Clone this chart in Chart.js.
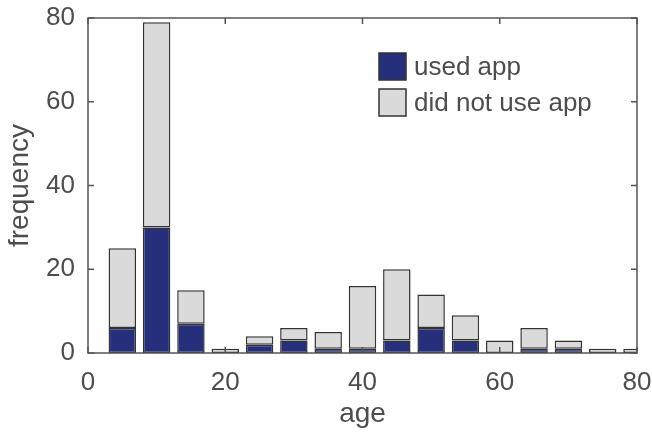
<!DOCTYPE html>
<html>
<head>
<meta charset="utf-8">
<script src="https://cdn.jsdelivr.net/npm/chart.js@4/dist/chart.umd.min.js"></script>
<style>
  html, body { margin: 0; padding: 0; background: #fff; }
  #wrap { width: 652px; height: 435px; }
</style>
</head>
<body>
<div id="wrap"><canvas id="c" width="652" height="435"></canvas></div>
<script>
// Age bins (bin centres, years)
const ageBins = [5, 10, 15, 20, 25, 30, 35, 40, 45, 50, 55, 60, 65, 70, 75, 80];
// Respondents per bin who used the app
const usedApp = [6, 30, 7, 0, 2, 3, 1, 1, 3, 6, 3, 0, 1, 1, 0, 0];
// Respondents per bin who did not use the app
const didNotUseApp = [19, 49, 8, 1, 2, 3, 4, 15, 17, 8, 6, 3, 5, 2, 1, 1];
// Axis ticks
const xTicks = [0, 20, 40, 60, 80];
const yTicks = [0, 20, 40, 60, 80];

const textColor = '#4d4d4d';
const frameColor = '#555555';
const edgeColor = '#333333';
const fontFamily = '"Liberation Sans", Arial, Helvetica, sans-serif';

const toPoints = vals => vals.map((v, i) => ({ x: ageBins[i], y: v }));

// Box around the plot area with inward tick marks on all four sides
const framePlugin = {
  id: 'frame',
  afterDatasetsDraw(chart) {
    const { ctx, chartArea: a, scales } = chart;
    const len = 6;
    ctx.save();
    ctx.strokeStyle = frameColor;
    ctx.lineWidth = 1.5;
    ctx.strokeRect(a.left, a.top, a.right - a.left, a.bottom - a.top);
    ctx.beginPath();
    xTicks.forEach(v => {
      const px = scales.x.getPixelForValue(v);
      ctx.moveTo(px, a.bottom); ctx.lineTo(px, a.bottom - len);
      ctx.moveTo(px, a.top); ctx.lineTo(px, a.top + len);
    });
    yTicks.forEach(v => {
      const py = scales.y.getPixelForValue(v);
      ctx.moveTo(a.left, py); ctx.lineTo(a.left + len, py);
      ctx.moveTo(a.right, py); ctx.lineTo(a.right - len, py);
    });
    ctx.stroke();
    ctx.restore();
  }
};

// Legend inside the plot, no surrounding box
const legendPlugin = {
  id: 'insideLegend',
  afterDraw(chart) {
    const { ctx } = chart;
    const box = 27, x0 = 379, y0 = 53, step = 36;
    ctx.save();
    ctx.font = '26px ' + fontFamily;
    ctx.textBaseline = 'middle';
    ctx.textAlign = 'left';
    chart.data.datasets.forEach((ds, i) => {
      const y = y0 + i * step;
      ctx.fillStyle = ds.backgroundColor;
      ctx.fillRect(x0, y, box, box);
      ctx.strokeStyle = edgeColor;
      ctx.lineWidth = 1.5;
      ctx.strokeRect(x0, y, box, box);
      ctx.fillStyle = textColor;
      ctx.fillText(ds.label, x0 + box + 8, y + box / 2 + 1);
    });
    ctx.restore();
  }
};

new Chart(document.getElementById('c'), {
  type: 'bar',
  data: {
    datasets: [
      {
        label: 'used app',
        data: toPoints(usedApp),
        backgroundColor: '#262f7b',
        borderColor: edgeColor,
        borderWidth: 1.5,
        borderSkipped: false,
        barPercentage: 0.8,
        categoryPercentage: 1.0,
        clip: 0
      },
      {
        label: 'did not use app',
        data: toPoints(didNotUseApp),
        backgroundColor: '#dadada',
        borderColor: edgeColor,
        borderWidth: 1.5,
        borderSkipped: false,
        barPercentage: 0.8,
        categoryPercentage: 1.0,
        clip: 0
      }
    ]
  },
  options: {
    responsive: false,
    animation: false,
    devicePixelRatio: 1,
    layout: { padding: { top: 18, right: 15, left: 0, bottom: 0 } },
    plugins: {
      legend: { display: false },
      tooltip: { enabled: false }
    },
    scales: {
      x: {
        type: 'linear',
        stacked: true,
        min: 0,
        max: 80,
        offset: false,
        grid: { display: false, drawTicks: false },
        border: { display: false },
        afterBuildTicks: s => { s.ticks = xTicks.map(v => ({ value: v })); },
        afterFit: s => { s.height = 82; s.paddingLeft = 0; s.paddingRight = 0; },
        ticks: {
          color: textColor,
          font: { family: fontFamily, size: 26 },
          padding: 14,
          maxRotation: 0
        },
        title: {
          display: true,
          text: 'age',
          color: textColor,
          font: { family: fontFamily, size: 28 },
          padding: { top: 0, bottom: 4 }
        }
      },
      y: {
        stacked: true,
        min: 0,
        max: 80,
        grid: { display: false, drawTicks: false },
        border: { display: false },
        afterBuildTicks: s => { s.ticks = yTicks.map(v => ({ value: v })); },
        afterFit: s => { s.width = 88; s.paddingTop = 0; s.paddingBottom = 0; },
        ticks: {
          color: textColor,
          font: { family: fontFamily, size: 26 },
          padding: 13
        },
        title: {
          display: true,
          text: 'frequency',
          color: textColor,
          font: { family: fontFamily, size: 28 },
          padding: { top: 3, bottom: 0 }
        }
      }
    }
  },
  plugins: [framePlugin, legendPlugin]
});
</script>
</body>
</html>
